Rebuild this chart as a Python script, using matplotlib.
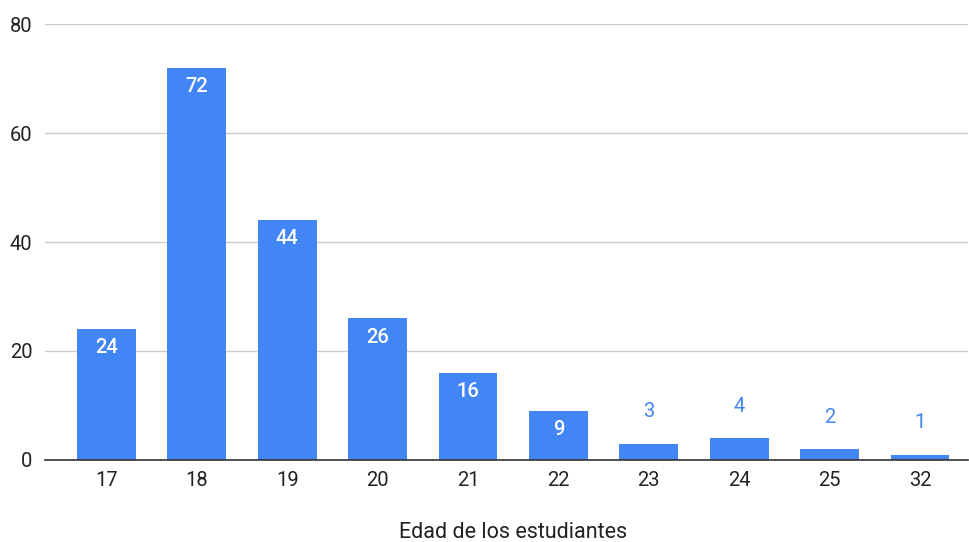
import matplotlib.pyplot as plt

edades = ['17', '18', '19', '20', '21', '22', '23', '24', '25', '32']
cantidad = [24, 72, 44, 26, 16, 9, 3, 4, 2, 1]

plt.rcParams['font.family'] = ['Roboto', 'DejaVu Sans']

azul = '#4285F4'
fig = plt.figure(figsize=(9.69, 5.42), dpi=100)
ax = fig.add_axes([0.0464, 0.1513, 0.9525, 0.8044])

x = range(len(edades))
bars = ax.bar(x, cantidad, width=0.65, color=azul, zorder=3)

# etiquetas: dentro de la barra si cabe, si no encima
for xi, v in zip(x, cantidad):
    if v >= 8:
        ax.annotate(str(v), (xi, v), xytext=(0, -13.5), textcoords='offset points',
                    ha='center', va='center', color='white', fontsize=14.5,
                    fontweight='medium', zorder=4)
    else:
        ax.annotate(str(v), (xi, v), xytext=(0, 23), textcoords='offset points',
                    ha='center', va='center', color=azul, fontsize=14.5, zorder=4)

ax.set_ylim(0, 80)
ax.set_xlim(-0.68, 9.53)
ax.set_yticks([0, 20, 40, 60, 80])
ax.set_xticks(list(x))
ax.set_xticklabels(edades)
ax.grid(axis='y', color='#cccccc', linewidth=1, zorder=0)
for s in ['top', 'right', 'left']:
    ax.spines[s].set_visible(False)
ax.spines['bottom'].set_color('#333333')
ax.spines['bottom'].set_linewidth(1.2)
ax.spines['bottom'].set_zorder(5)
ax.tick_params(axis='both', length=0, labelsize=14.5, labelcolor='#222222')
ax.tick_params(axis='x', pad=8)
ax.tick_params(axis='y', pad=9)

fig.text(0.5294, 1 - 532 / 542, 'Edad de los estudiantes', fontsize=15.5,
         color='#222222', ha='center', va='center')

fig.savefig('out.png', dpi=100)
